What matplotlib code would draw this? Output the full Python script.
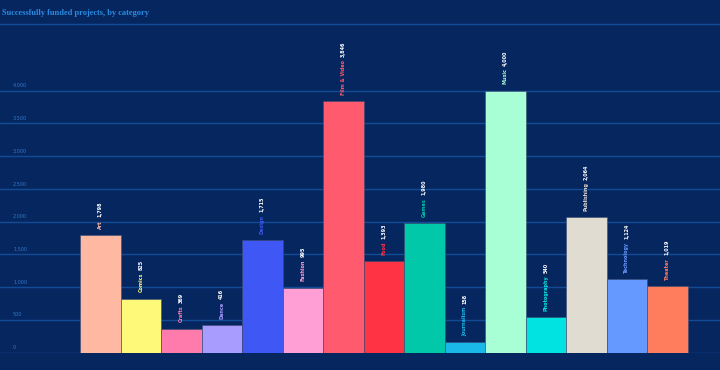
import matplotlib.pyplot as plt
import matplotlib.transforms as mtransforms

categories = ["Art", "Comics", "Crafts", "Dance", "Design", "Fashion", "Film & Video",
              "Food", "Games", "Journalism", "Music", "Photography", "Publishing",
              "Technology", "Theater"]
funded = [1798, 825, 369, 416, 1715, 995, 3846, 1393, 1980, 158, 4000, 540, 2064, 1124, 1019]
colors = ["#ffb9a3", "#fff97a", "#ff7bac", "#a99cff", "#3f57f5", "#ff9fd6", "#ff5a6e",
          "#ff3344", "#00c8a8", "#1ab8e8", "#a8ffd6", "#00e3e0", "#e1dcd1", "#6699ff", "#ff7d5c"]
y_ticks = [0, 500, 1000, 1500, 2000, 2500, 3000, 3500, 4000]

BG = "#062660"
GRID = "#114c94"

fig = plt.figure(figsize=(7.2, 3.7), dpi=100, facecolor=BG)
ax = fig.add_axes([0, 17.3 / 370, 1, (352.7 - 24) / 370])
ax.set_facecolor(BG)

x = list(range(len(categories)))
ax.bar(x, funded, width=1.0, color=colors, edgecolor="#3a4a70", linewidth=0.4, zorder=3)

ax.set_xlim(-2.475, 15.3)
ax.set_ylim(0, 5018)
ax.set_yticks(y_ticks)
ax.grid(axis="y", color=GRID, linewidth=1.0, zorder=0)
ax.tick_params(left=False, bottom=False, labelleft=False, labelbottom=False)
for s in ["left", "right", "bottom"]:
    ax.spines[s].set_visible(False)
ax.spines["top"].set_color(GRID)
ax.spines["top"].set_linewidth(1.0)

trans = mtransforms.blended_transform_factory(ax.transAxes, ax.transData)
for v in y_ticks:
    ax.text(13 / 720, v + 40, f"{v:,}", transform=trans, fontsize=3.5, color="#2f78c8",
            ha="left", va="bottom")

for xi, cat, val, col in zip(x, categories, funded, colors):
    t = ax.annotate(cat, xy=(xi, val), xytext=(0, 4.5), textcoords="offset points",
                    rotation=90, ha="center", va="bottom", fontsize=3.5, color=col,
                    fontweight="bold", zorder=4)
    ax.annotate(f"{val:,}", xy=(0.5, 1), xycoords=t, xytext=(0, 2), textcoords="offset points",
                rotation=90, ha="center", va="bottom", fontsize=3.5, color="white",
                fontweight="bold", zorder=4)

fig.text(2 / 720, 1 - 13 / 370, "Successfully funded projects, by category", fontsize=6,
         family="Liberation Serif", fontweight="bold", color="#2a8be0", ha="left", va="center")

fig.savefig("out.png", dpi=100, facecolor=BG)
